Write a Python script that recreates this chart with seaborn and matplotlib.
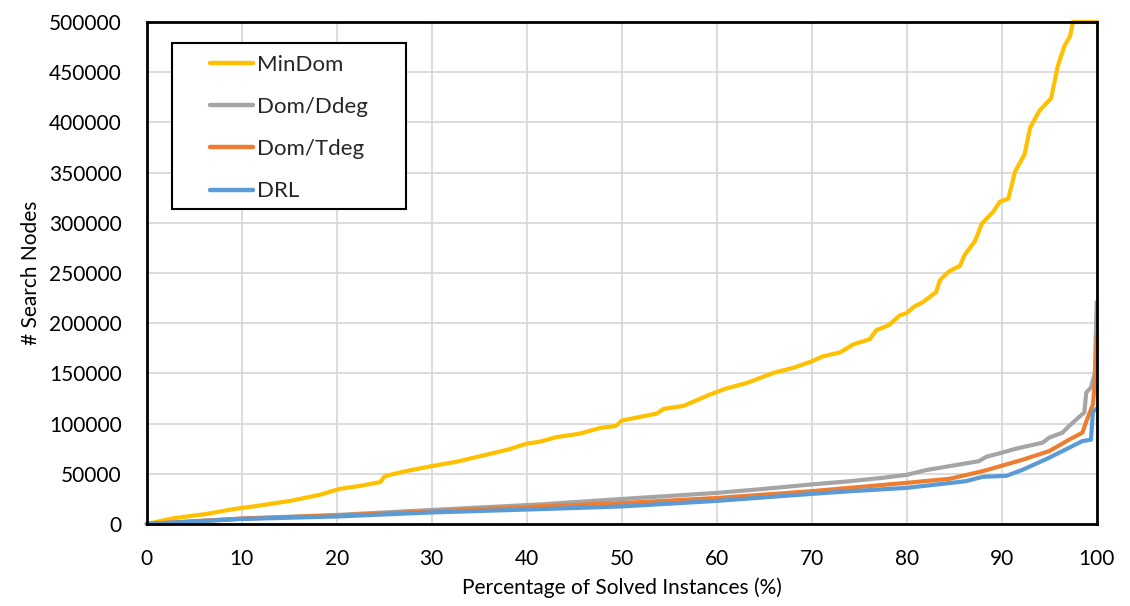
import matplotlib
matplotlib.use("Agg")
import matplotlib.pyplot as plt
from matplotlib.patches import Rectangle
import seaborn as sns
import pandas as pd

# ---- data ----
mindom_x = [0, 2.8, 6.3, 9.1, 11.6, 15.1, 18.2, 20.3, 22.3, 24.6, 25.0, 25.4, 27.4, 30.2, 32.6,
            36.1, 37.9, 40.0, 41.4, 43.1, 45.6, 47.7, 49.4, 50.0, 53.7, 54.4, 56.5, 59.3, 61.0,
            63.2, 66.0, 68.1, 70.0, 71.2, 73.0, 74.4, 76.1, 76.8, 78.1, 79.3, 80.0, 80.7, 81.7,
            83.1, 83.5, 84.5, 85.6, 86.1, 87.2, 87.9, 89.1, 89.8, 90.7, 91.4, 92.4, 93.0, 94.0,
            95.2, 95.9, 96.6, 97.2, 97.5, 100]
mindom_y = [0, 5700, 10000, 14800, 18000, 23000, 29000, 35000, 37700, 41800, 47000, 48500, 52900,
            58000, 62000, 69800, 73800, 80000, 82000, 86500, 90000, 95600, 97700, 103000, 110000,
            114600, 117600, 129000, 135000, 140500, 150600, 155700, 162000, 167000, 171000, 179000,
            184000, 193000, 198000, 208000, 210000, 216000, 221000, 231000, 243000, 252000, 257000,
            268000, 282000, 299000, 311000, 321000, 324000, 351000, 368000, 395000, 412000, 424000,
            456000, 476000, 486000, 500000, 500000]

ddeg_x = [0, 10, 20, 30, 41.4, 50, 60, 65, 70, 74, 77.5, 80, 82, 84.5, 87.6, 88.4, 90, 91.5,
          94.3, 95, 96.4, 97.1, 98.2, 98.7, 98.9, 99.4, 99.8, 100]
ddeg_y = [0, 5500, 9000, 14000, 19500, 24900, 31000, 35000, 39400, 42600, 46000, 49000, 53600,
          57600, 62600, 67000, 71000, 75000, 81000, 86000, 91000, 97600, 107000, 111000, 131000,
          136000, 150000, 221000]

tdeg_x = [0, 10, 20, 30, 41.4, 50, 60, 70, 74, 80, 84.5, 88, 90, 92.2, 95, 97.1, 98.5, 98.9,
          99.6, 99.9, 100]
tdeg_y = [0, 5300, 8500, 12500, 17500, 20800, 25900, 32700, 36000, 41000, 45000, 52600, 58000,
          64000, 72600, 84000, 91000, 102000, 119000, 150000, 188000]

drl_x = [0, 10, 20, 30, 41.4, 50, 60, 70, 74, 80, 86.2, 88, 90.5, 92.2, 95, 97.1, 98.5, 99.4,
         99.6, 100]
drl_y = [0, 5000, 7500, 11500, 14800, 17500, 23000, 30000, 32600, 36000, 42600, 47000, 48000,
         54000, 66000, 76000, 82600, 84000, 112000, 115000]

series_names = ["MinDom", "Dom/Ddeg", "Dom/Tdeg", "DRL"]
series_colors = ["#FFC000", "#A5A5A5", "#ED7D31", "#5B9BD5"]
x_ticks = [0, 10, 20, 30, 40, 50, 60, 70, 80, 90, 100]
y_ticks = [0, 50000, 100000, 150000, 200000, 250000, 300000, 350000, 400000, 450000, 500000]

frames = []
for name, xs, ys in zip(series_names, [mindom_x, ddeg_x, tdeg_x, drl_x],
                        [mindom_y, ddeg_y, tdeg_y, drl_y]):
    frames.append(pd.DataFrame({"x": xs, "y": ys, "method": name}))
df = pd.concat(frames, ignore_index=True)

sns.set_theme(style="white")
plt.rcParams["font.family"] = ["Lato", "DejaVu Sans"]

fig = plt.figure(figsize=(11.30, 6.06), dpi=100)
ax = fig.add_axes([146.7 / 1130, 1 - 524 / 606, 950 / 1130, 502 / 606])

sns.lineplot(data=df, x="x", y="y", hue="method", hue_order=series_names,
             palette=dict(zip(series_names, series_colors)), estimator=None, sort=False,
             linewidth=3.0, ax=ax, zorder=3)
for ln in ax.get_lines():
    ln.set_clip_on(False)
    ln.set_solid_joinstyle("round")

ax.set_xlim(0, 100)
ax.set_ylim(0, 500000)
ax.set_xticks(x_ticks)
ax.set_yticks(y_ticks)
ax.set_xticklabels([str(t) for t in x_ticks])
ax.set_yticklabels([str(t) for t in y_ticks])
ax.grid(True, color="#D9D9D9", linewidth=1.3, zorder=0)
ax.set_axisbelow(True)
for sp in ax.spines.values():
    sp.set_color("black")
    sp.set_linewidth(2.0)
    sp.set_zorder(4)
ax.tick_params(axis="both", length=0, labelsize=15, colors="black")
ax.tick_params(axis="y", pad=18)
ax.tick_params(axis="x", pad=18)

ax.set_xlabel("Percentage of Solved Instances (%)", fontsize=15, color="black", labelpad=6)
ax.set_ylabel("# Search Nodes", fontsize=15, color="black", labelpad=6)

# legend box drawn separately for exact padding
box = Rectangle((0.0263, 0.6275), 0.273 - 0.0263, 0.958 - 0.6275, transform=ax.transAxes,
                facecolor="white", edgecolor="black", linewidth=1.5, zorder=5)
ax.add_patch(box)
leg = ax.legend(loc="upper left", bbox_to_anchor=(0.0666, 0.935), borderaxespad=0,
                fontsize=16, frameon=False, handlelength=1.95,
                handletextpad=0.15, labelspacing=1.0, borderpad=0.0, title=None)
leg.set_zorder(6)
for h in leg.get_lines():
    h.set_linewidth(3.2)
    h.set_solid_capstyle("round")

fig.savefig("out.png", dpi=100, facecolor="white")
